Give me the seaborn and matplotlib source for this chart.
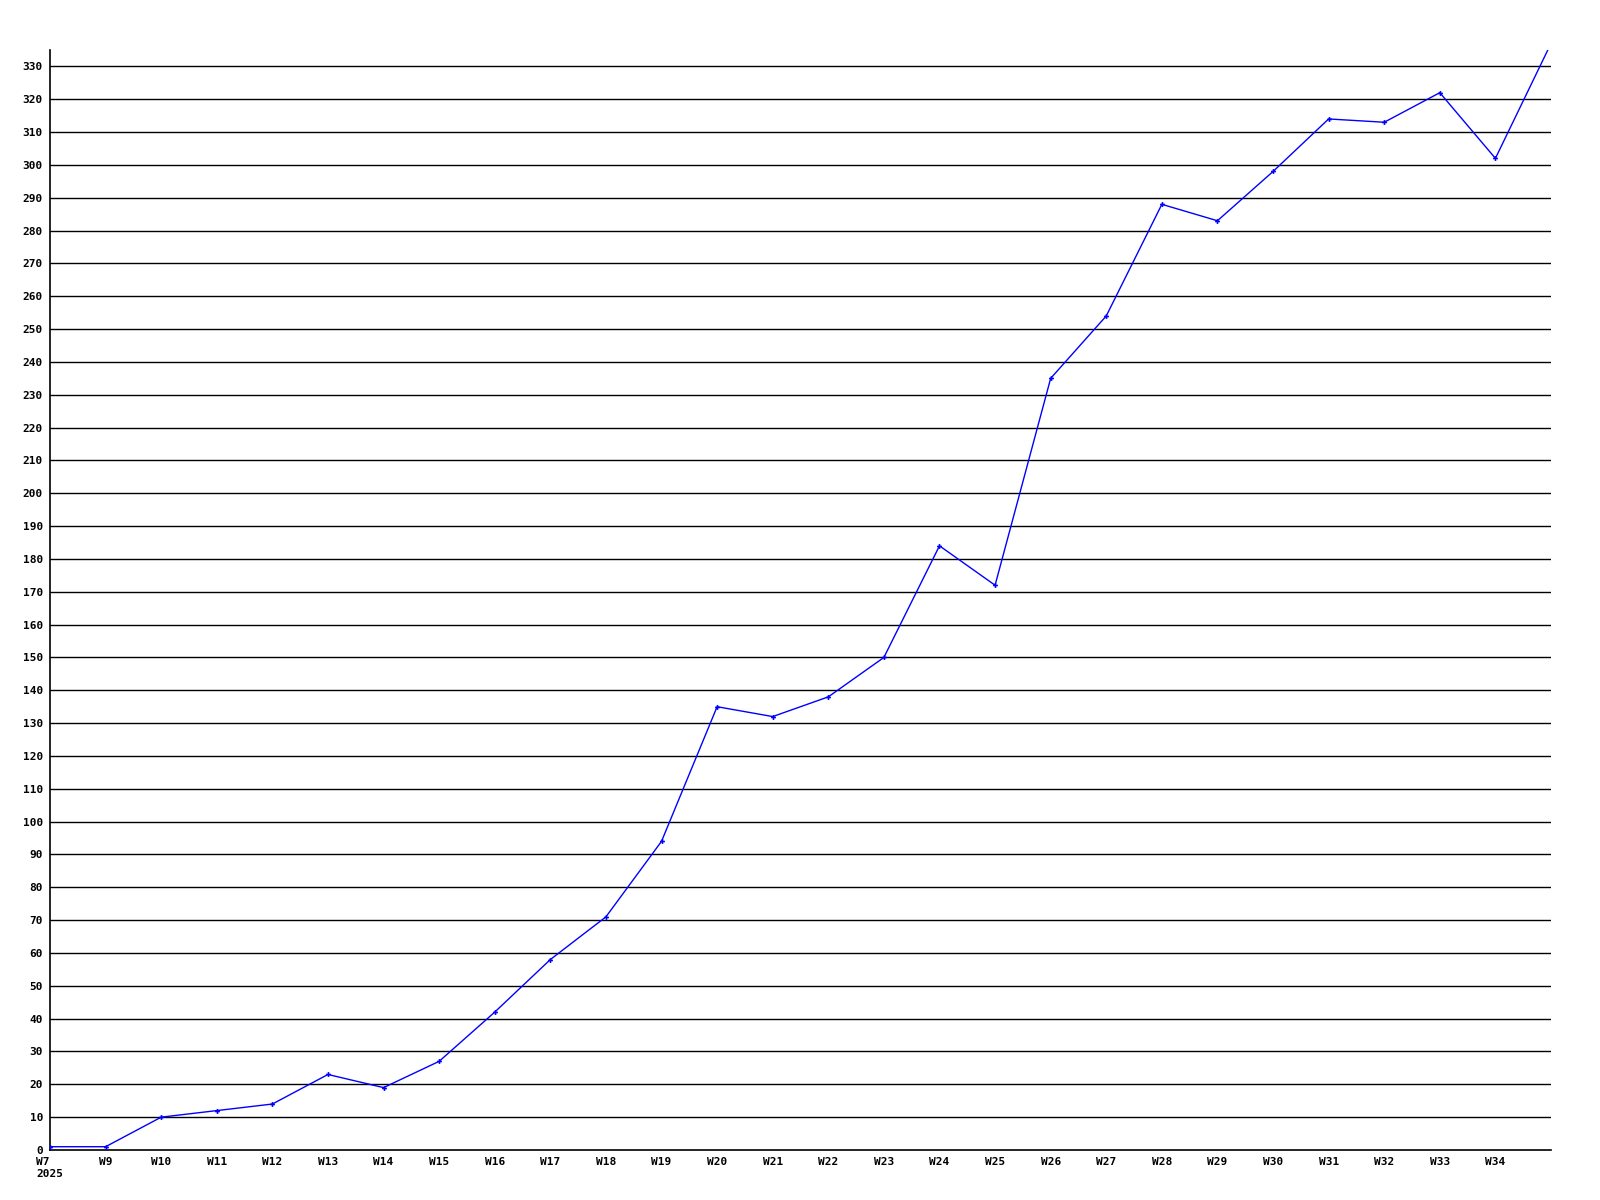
import matplotlib
matplotlib.use("Agg")
import matplotlib.pyplot as plt
import seaborn as sns
import pandas as pd

# weekly values (W8 is skipped, last point has no label)
weeks = ["W7", "W9", "W10", "W11", "W12", "W13", "W14", "W15", "W16", "W17",
         "W18", "W19", "W20", "W21", "W22", "W23", "W24", "W25", "W26", "W27",
         "W28", "W29", "W30", "W31", "W32", "W33", "W34", "W35"]
values = [1, 1, 10, 12, 14, 23, 19, 27, 42, 58,
          71, 94, 135, 132, 138, 150, 184, 172, 235, 254,
          288, 283, 298, 314, 313, 322, 302, 337]
tick_labels = ["W7\n2025"] + weeks[1:-1]
y_ticks = list(range(0, 331, 10))

sns.set_theme(style="white")
plt.rcParams["font.family"] = ["DejaVu Sans Mono", "DejaVu Sans"]

df = pd.DataFrame({"pos": range(len(weeks)), "week": weeks, "value": values})

fig = plt.figure(figsize=(16, 12), dpi=100)
ax = fig.add_axes([50 / 1600, 50 / 1200, 1501 / 1600, 1100 / 1200])

for y in y_ticks[1:]:
    ax.axhline(y, color="black", linewidth=1.0, zorder=1)

sns.lineplot(data=df, x="pos", y="value", ax=ax, color="#0000ff", linewidth=1.0,
             marker="P", markersize=3.5, markeredgewidth=0, zorder=3, clip_on=True)

ax.set_xlim(0, len(weeks) - 1)
ax.set_ylim(0, 335)
ax.set_yticks(y_ticks)
ax.set_yticklabels([str(v) for v in y_ticks], fontsize=8, fontweight="bold", color="black")
ax.set_xticks(range(len(tick_labels)))
ax.set_xticklabels(tick_labels, fontsize=8, fontweight="bold", color="black",
                   multialignment="left", linespacing=1.3, va="top")
ax.tick_params(axis="both", length=0, pad=5)
ax.set_xlabel("")
ax.set_ylabel("")
ax.grid(False)

for side in ["top", "right"]:
    ax.spines[side].set_visible(False)
for side in ["left", "bottom"]:
    ax.spines[side].set_color("black")
    ax.spines[side].set_linewidth(1.2)

fig.savefig("out.png", dpi=100, facecolor="white")
